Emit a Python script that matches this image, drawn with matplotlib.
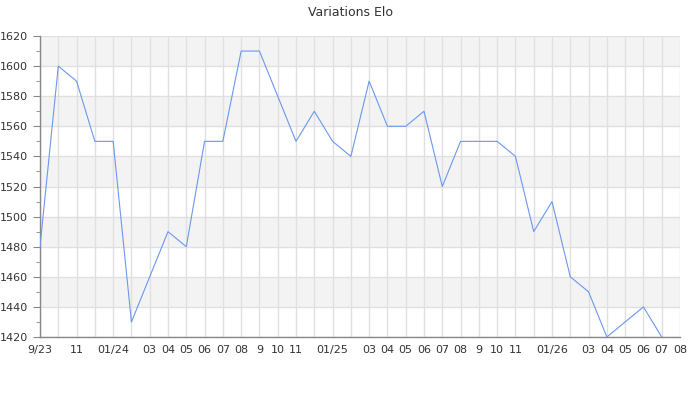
import matplotlib
matplotlib.use("Agg")
import matplotlib.pyplot as plt
from matplotlib.ticker import MultipleLocator

months = ["9/23", "", "11", "", "01/24", "", "03", "04", "05", "06", "07", "08",
          "9", "10", "11", "", "01/25", "", "03", "04", "05", "06", "07", "08",
          "9", "10", "11", "", "01/26", "", "03", "04", "05", "06", "07", "08"]
elo = [1480, 1600, 1590, 1550, 1550, 1430, 1460, 1490, 1480, 1550, 1550, 1610,
       1610, 1580, 1550, 1570, 1550, 1540, 1590, 1560, 1560, 1570, 1520, 1550,
       1550, 1550, 1540, 1490, 1510, 1460, 1450, 1420, 1430, 1440, 1420]
title = "Variations Elo"

fig = plt.figure(figsize=(7, 4), dpi=100)
ax = fig.add_axes([40/700, 1-337/400, 640/700, 301/400])

ymin, ymax = 1420, 1620
ax.set_xlim(0, len(months) - 1)
ax.set_ylim(ymin, ymax)

# alternating bands
for i, y0 in enumerate(range(ymin, ymax, 20)):
    if (ymax - y0) // 20 % 2 == 1:
        ax.axhspan(y0, y0 + 20, color="#f3f3f3", zorder=0, lw=0)

ax.set_xticks(range(len(months)))
ax.set_xticklabels(months)
ax.yaxis.set_major_locator(MultipleLocator(20))
ax.yaxis.set_minor_locator(MultipleLocator(10))
ax.grid(True, which="major", color="#e0e0e0", lw=1, zorder=1)
ax.set_axisbelow(True)

ax.plot(range(len(elo)), elo, color="#6a98ec", lw=0.8, zorder=3)

for s in ["top", "right"]:
    ax.spines[s].set_visible(False)
for s in ["left", "bottom"]:
    ax.spines[s].set_color("#888888")
    ax.spines[s].set_linewidth(1)

ax.tick_params(axis="x", length=0, labelsize=8, colors="#333333", pad=6)
ax.tick_params(axis="y", which="major", length=5, labelsize=8, colors="#333333", direction="out")
ax.tick_params(axis="y", which="minor", length=3, colors="#888888")
ax.tick_params(axis="y", which="major", color="#888888")

fig.text(0.5, 1 - 12/400, title, ha="center", va="center", fontsize=9, color="#333333")

fig.savefig("out.png", dpi=100)
